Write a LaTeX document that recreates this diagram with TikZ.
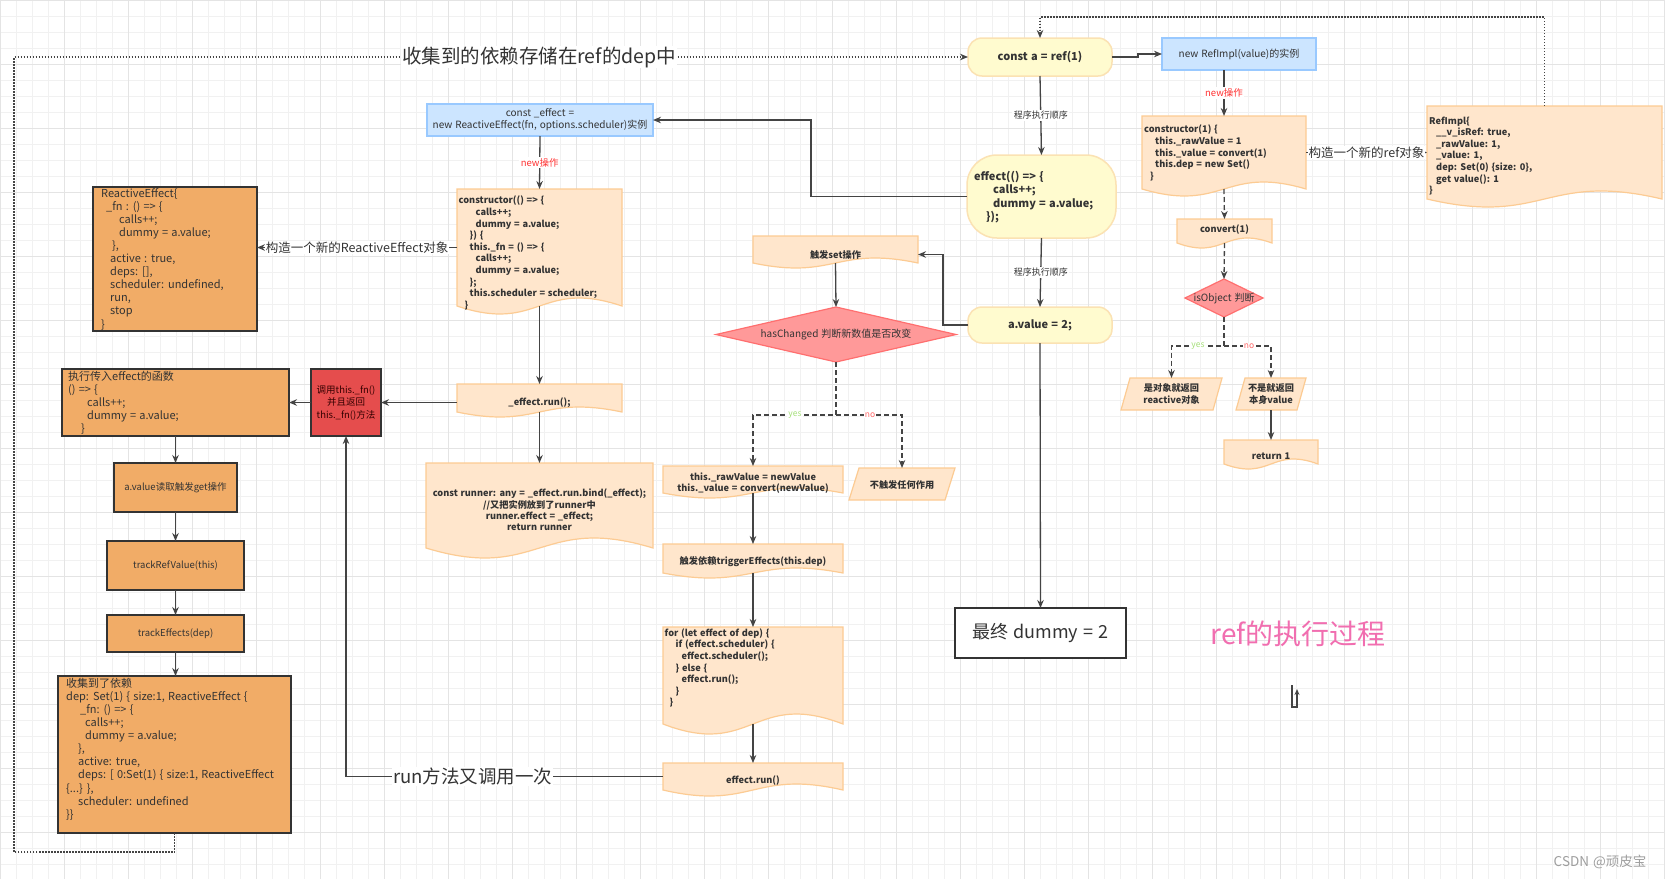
\documentclass[tikz,border=0pt]{standalone}
\usepackage{fontspec}
\setmainfont[WordSpace=1.3]{Noto Sans CJK SC}
\usetikzlibrary{arrows.meta,calc}

\definecolor{peach}{HTML}{FFE6CC}
\definecolor{peachln}{HTML}{FCCB93}
\definecolor{ylw}{HTML}{FFFBCF}
\definecolor{ylwln}{HTML}{FBE2B3}
\definecolor{blu}{HTML}{CCE5FF}
\definecolor{bluln}{HTML}{99C9FF}
\definecolor{org}{HTML}{F1AC67}
\definecolor{redb}{HTML}{E54D4D}
\definecolor{diam}{HTML}{FF9999}
\definecolor{diamln}{HTML}{FF6F6F}
\definecolor{lncol}{HTML}{444444}
\definecolor{txtcol}{HTML}{333333}
\definecolor{pinkt}{HTML}{F16EB0}
\definecolor{gridmin}{HTML}{F1F1F1}
\definecolor{gridmaj}{HTML}{E4E4E4}
\definecolor{yescol}{HTML}{A6E07A}
\definecolor{nocol}{HTML}{FF6B6B}
\definecolor{newred}{HTML}{FF3333}

\tikzset{
  conn/.style={draw=lncol, line width=1.3pt, -{Stealth[length=8pt,width=6.5pt]}},
  dashconn/.style={conn, dash pattern=on 5pt off 3pt},
  dotconn/.style={conn, line width=1.2pt, dash pattern=on 1.5pt off 1.5pt},
  docsty/.style={fill=peach, draw=peachln, line width=1.2pt},
  ylwbox/.style={fill=ylw, draw=ylwln, line width=1.5pt},
  blubox/.style={fill=blu, draw=bluln, line width=1.2pt},
  orgbox/.style={fill=org, draw=txtcol, line width=1.2pt},
  redbox/.style={fill=redb, draw=txtcol, line width=1.2pt},
  diasty/.style={fill=diam, draw=diamln, line width=1.2pt},
  txt/.style={inner sep=0pt, text=txtcol},
  code/.style={txt, align=left, font=\fontsize{9.2}{11.6}\selectfont\bfseries},
  codec/.style={txt, align=center, font=\fontsize{9.2}{11.4}\selectfont\bfseries},
  plainc/.style={txt, align=center, font=\fontsize{10}{12}\selectfont},
  orgtxt/.style={txt, align=left, font=\fontsize{11}{13.1}\selectfont},
  smallorg/.style={txt, align=center, font=\fontsize{9.5}{12}\selectfont},
  ylwtxt/.style={txt, align=left, font=\fontsize{11}{13.3}\selectfont\bfseries},
  seqlbl/.style={txt, fill=white, inner sep=1.5pt, font=\fontsize{9}{10}\selectfont},
  newlbl/.style={txt, text=newred, fill=white, inner sep=1.5pt, font=\fontsize{9.5}{10}\selectfont},
  edgelbl/.style={txt, fill=white, inner sep=1pt, font=\fontsize{12.5}{14}\selectfont},
  biglbl/.style={txt, fill=white, inner sep=1pt, font=\fontsize{19.5}{22}\selectfont},
  runlbl/.style={txt, fill=white, inner sep=1pt, font=\fontsize{18.5}{21}\selectfont},
  yeslbl/.style={txt, text=yescol, fill=white, inner sep=1pt, font=\fontsize{8.5}{9}\selectfont},
  nolbl/.style={txt, text=nocol, fill=white, inner sep=1pt, font=\fontsize{8.5}{9}\selectfont},
}

% empty box node spanning (x1,y1)-(x2,y2)
\newcommand{\bx}[6][]{%
  \pgfmathsetlengthmacro\bxw{((#5)-(#3))*1pt}%
  \pgfmathsetlengthmacro\bxh{((#6)-(#4))*1pt}%
  \node[inner sep=0pt, outer sep=0pt, anchor=north west, minimum width=\bxw, minimum height=\bxh, #1] (#2) at ({#3},{#4}) {};}
% document shape: name x1 y1 x2 ybottom deviation
\newcommand{\docbox}[7][]{%
  \pgfmathsetmacro\dbm{(#3+#5)/2}%
  \pgfmathsetmacro\dbu{#6-3.46*#7}%
  \pgfmathsetmacro\dbd{#6+3.46*#7}%
  \filldraw[docsty,#1] (#3,#4) -- (#5,#4) -- (#5,#6) .. controls (\dbm,\dbu) and (\dbm,\dbd) .. (#3,#6) -- cycle;%
  \bx{#2}{#3}{#4}{#5}{#6}}
% parallelogram: name x1 y1 x2 y2 slant
\newcommand{\para}[7][]{%
  \filldraw[docsty,#1] ({#3+#7},#4) -- (#5,#4) -- ({#5-#7},#6) -- (#3,#6) -- cycle;%
  \bx{#2}{#3}{#4}{#5}{#6}}
% diamond: name cx cy w h
\newcommand{\dia}[6][]{%
  \filldraw[diasty,#1] ({#3-#5/2},#4) -- (#3,{#4-#6/2}) -- ({#3+#5/2},#4) -- (#3,{#4+#6/2}) -- cycle;%
  \bx{#2}{#3-#5/2}{#4-#6/2}{#3+#5/2}{#4+#6/2}}

\begin{document}
\begin{tikzpicture}[x=1pt,y=-1pt]
\useasboundingbox (0,0) rectangle (1665,879);
\fill[white] (0,0) rectangle (1665,879);
\foreach \gx in {0,16,...,1664} \draw[gridmin, line width=0.8pt] (\gx,0) -- (\gx,879);
\foreach \gy in {0,16,...,878} \draw[gridmin, line width=0.8pt] (0,\gy) -- (1665,\gy);
\foreach \gx in {0,64,...,1664} \draw[gridmaj, line width=0.8pt] (\gx,0) -- (\gx,879);
\foreach \gy in {0,64,...,878} \draw[gridmaj, line width=0.8pt] (0,\gy) -- (1665,\gy);

% ---------------- right column ----------------
\bx[ylwbox, rounded corners=14pt]{constA}{968}{38}{1112}{76}
\node[ylwtxt] (constA-t) at (1040,57) {const a = ref(1)};
\bx[ylwbox, rounded corners=30pt]{effectBox}{967}{155}{1116}{238}
\node[ylwtxt, anchor=west] (effectBox-t) at (974,197) {effect(() => \{\\\hspace*{19pt}calls++;\\\hspace*{19pt}dummy = a.value;\\\hspace*{12pt}\});};
\bx[ylwbox, rounded corners=14pt]{aval}{968}{307}{1112}{343}
\node[ylwtxt] (aval-t) at (1040,325) {a.value = 2;};
\bx[fill=white, draw=txtcol, line width=1.6pt]{finalBox}{955}{608}{1126}{658}
\node[txt, font=\fontsize{18}{20}\selectfont] (finalBox-t) at (1040.5,633) {最终 dummy = 2};

\bx[blubox]{newRefImpl}{1162}{38}{1316}{70}
\node[plainc] (newRefImpl-t) at (1239,54) {new RefImpl(value)的实例};
\docbox{ctor1}{1142}{116}{1306}{189}{7}
\node[code, anchor=west] (ctor1-t) at (1144,153) {constructor(1) \{\\\hspace*{11pt}this.\_rawValue = 1\\\hspace*{11pt}this.\_value = convert(1)\\\hspace*{11pt}this.dep = new Set()\\\hspace*{6pt}\}};
\docbox{refimpl}{1427}{106}{1662}{199}{8}
\node[code, anchor=west] (refimpl-t) at (1429,156) {RefImpl\{\\\hspace*{7pt}\_\_v\_isRef: true,\\\hspace*{7pt}\_rawValue: 1,\\\hspace*{7pt}\_value: 1,\\\hspace*{7pt}dep: Set(0) \{size: 0\},\\\hspace*{7pt}get value(): 1\\\}};
\docbox{convert}{1177}{219}{1272}{243}{5}
\node[codec] (convert-t) at (1224.5,230) {convert(1)};
\dia{isObj}{1224}{298}{78}{38}
\node[plainc] (isObj-t) at (1224,298) {isObject 判断};
\para{isYes}{1121}{378}{1222}{410}{9}
\node[codec] (isYes-t) at (1171.5,394) {是对象就返回\\reactive对象};
\para{isNo}{1236}{378}{1306}{410}{9}
\node[codec] (isNo-t) at (1271,394) {不是就返回\\本身value};
\docbox{ret1}{1224}{440}{1318}{464}{5}
\node[codec] (ret1-t) at (1271,456) {return 1};

% ---------------- middle column ----------------
\docbox{setBox}{753}{236}{918}{263}{5}
\node[codec] (setBox-t) at (835.5,255) {触发set操作};
\dia{hasChanged}{836}{334.5}{240}{55}
\node[plainc] (hasChanged-t) at (836,334.5) {hasChanged 判断新数值是否改变};
\docbox{rawVal}{663}{466}{843}{493}{5}
\node[codec] (rawVal-t) at (753,483) {this.\_rawValue = newValue\\this.\_value = convert(newValue)};
\para{noEffect}{849}{468}{955}{500}{10}
\node[codec] (noEffect-t) at (902,485) {不触发任何作用};
\docbox{trigger}{663}{544}{843}{573}{5}
\node[codec] (trigger-t) at (753,562) {触发依赖triggerEffects(this.dep)};
\docbox{forBox}{663}{627}{843}{724}{10}
\node[code, anchor=west] (forBox-t) at (664.5,668) {for (let effect of dep) \{\\\hspace*{11pt}if (effect.scheduler) \{\\\hspace*{17pt}effect.scheduler();\\\hspace*{11pt}\} else \{\\\hspace*{17pt}effect.run();\\\hspace*{11pt}\}\\\hspace*{5pt}\}};
\docbox{effRun2}{663}{763}{843}{790}{6}
\node[codec] (effRun2-t) at (753,781) {effect.run()};

% ---------------- left columns ----------------
\bx[blubox]{constEffect}{427}{104}{653}{136}
\node[plainc] (constEffect-t) at (540,120) {const \_effect =\\new ReactiveEffect(fn, options.scheduler)实例};
\docbox{ctorL}{457}{189}{622}{306}{8}
\node[code, anchor=west] (ctorL-t) at (458.5,253) {constructor(() => \{\\\hspace*{17pt}calls++;\\\hspace*{17pt}dummy = a.value;\\\hspace*{11pt}\}) \{\\\hspace*{11pt}this.\_fn = () => \{\\\hspace*{17pt}calls++;\\\hspace*{17pt}dummy = a.value;\\\hspace*{11pt}\};\\\hspace*{11pt}this.scheduler = scheduler;\\\hspace*{6pt}\}};
\docbox{effRun}{457}{384}{622}{412}{5}
\node[codec] (effRun-t) at (539.5,403) {\_effect.run();};
\docbox{runner}{426}{463}{653}{548}{10}
\node[codec] (runner-t) at (539.5,510) {const runner: any = \_effect.run.bind(\_effect);\\//又把实例放到了runner中\\runner.effect = \_effect;\\return runner};

\bx[orgbox]{reEff}{93}{187}{257}{331}
\node[orgtxt, anchor=west] (reEff-t) at (101,259) {ReactiveEffect\{\\\hspace*{5pt}\_fn : () => \{\\\hspace*{18pt}calls++;\\\hspace*{18pt}dummy = a.value;\\\hspace*{11pt}\},\\\hspace*{9pt}active : true,\\\hspace*{9pt}deps: [],\\\hspace*{9pt}scheduler: undefined,\\\hspace*{9pt}run,\\\hspace*{9pt}stop\\\}};
\bx[orgbox]{exec}{62}{369}{289}{436}
\node[orgtxt, anchor=west] (exec-t) at (68,403) {执行传入effect的函数\\() => \{\\\hspace*{19pt}calls++;\\\hspace*{19pt}dummy = a.value;\\\hspace*{13pt}\}};
\bx[redbox]{redBox}{311}{369}{381}{436}
\node[txt, align=center, text=black!80!red, font=\fontsize{9.5}{12.5}\selectfont] (redBox-t) at (346,403) {调用this.\_fn()\\并且返回\\this.\_fn()方法};
\bx[orgbox]{getBox}{114}{463}{237}{512}
\node[smallorg] (getBox-t) at (175.5,488) {a.value读取触发get操作};
\bx[orgbox]{trackRef}{107}{541}{244}{590}
\node[smallorg] (trackRef-t) at (175.5,566) {trackRefValue(this)};
\bx[orgbox]{trackEff}{107}{615}{244}{652}
\node[smallorg] (trackEff-t) at (175.5,634) {trackEffects(dep)};
\bx[orgbox]{collected}{58}{676}{291}{833}
\node[orgtxt, anchor=west] (collected-t) at (66,749) {收集到了依赖\\dep: Set(1) \{ size:1, ReactiveEffect \{\\\hspace*{14pt}\_fn: () => \{\\\hspace*{19pt}calls++;\\\hspace*{19pt}dummy = a.value;\\\hspace*{12pt}\},\\\hspace*{12pt}active: true,\\\hspace*{12pt}deps: [ 0:Set(1) \{ size:1, ReactiveEffect\\\{...\} \},\\\hspace*{12pt}scheduler: undefined\\\}\}};

% ---------------- free texts ----------------
\node[txt, text=pinkt, font=\fontsize{28}{30}\selectfont] (title) at (1298,634) {ref的执行过程};
\node[txt, text=black!38, font=\fontsize{13.5}{15}\selectfont] (wm) at (1600,862) {CSDN @顽皮宝};

% ---------------- connectors ----------------
\coordinate (topY) at (0,17);
\coordinate (dotBL) at (14,852);
\draw[dotconn] (refimpl.north) -- (refimpl.north |- topY) -| (constA.north);
\draw[dotconn] (collected.south) |- (dotBL) |- (constA.west);
\node[biglbl] (collectLbl) at (539,57) {收集到的依赖存储在ref的dep中};

\draw[conn] (constA.east) -- ++(26,0) |- (newRefImpl.west);
\draw[conn] (constA.south) -- node[seqlbl] {程序执行顺序} (effectBox.north);
\draw[conn] (effectBox.south) -- node[seqlbl] {程序执行顺序} (aval.north);
\draw[conn] (aval.south) -- (finalBox.north);
\draw[conn] (effectBox.west) -- ++(-156,0) |- (constEffect.east);
\draw[conn] (aval.west) -- ++(-25,0) |- ($(setBox.east)+(0,5)$);

\draw[conn] (newRefImpl.south -| ctor1.north) -- node[newlbl] {new操作} (ctor1.north);
\draw[conn] (ctor1.east) -- node[edgelbl] {构造一个新的ref对象} (ctor1.east -| refimpl.west);
\draw[dashconn] (ctor1.south) -- (convert.north);
\draw[dashconn] (convert.south) -- (isObj.north);
\draw[dashconn] (isObj.south) -- ++(0,29) coordinate (isSplit) -| (isYes.north);
\draw[dashconn] (isSplit) -| (isNo.north);
\node[yeslbl] (isYesLbl) at (1198,346) {yes};
\node[nolbl] (isNoLbl) at (1249,346) {no};
\draw[conn] (isNo.south) -- (ret1.north);

\draw[conn] (setBox.south) -- (hasChanged.north);
\draw[dashconn] (hasChanged.south) -- ++(0,53) coordinate (hcSplit) -| (rawVal.north);
\draw[dashconn] (hcSplit) -| (noEffect.north);
\node[yeslbl] (hcYesLbl) at (795,415) {yes};
\node[nolbl] (hcNoLbl) at (870,415) {no};
\draw[conn] (rawVal.south) -- (trigger.north);
\draw[conn] (trigger.south) -- (forBox.north);
\draw[conn] (forBox.south) -- (effRun2.north);

\draw[conn] (constEffect.south) -- node[newlbl] {new操作} (ctorL.north);
\draw[conn] (ctorL.west) -- node[edgelbl] {构造一个新的ReactiveEffect对象} (ctorL.west -| reEff.east);
\draw[conn] (ctorL.south) -- (effRun.north);
\draw[conn] (effRun.south) -- (runner.north);
\draw[conn] (effRun.west |- redBox.east) -- (redBox.east);
\draw[conn] (redBox.west) -- (exec.east);
\draw[conn] (exec.south -| getBox.north) -- (getBox.north);
\draw[conn] (getBox.south) -- (trackRef.north);
\draw[conn] (trackRef.south) -- (trackEff.north);
\draw[conn] (trackEff.south) -- (trackEff.south |- collected.north);
\draw[conn] (effRun2.west) -| node[runlbl, pos=0.3] {run方法又调用一次} (redBox.south);

\coordinate (tinyA) at (1292,685);
\coordinate (tinyB) at (1297,689);
\draw[draw=lncol, line width=1.1pt, -{Stealth[length=6pt,width=5pt]}] (tinyA) -- ++(0,22) -| (tinyB);
\end{tikzpicture}
\end{document}
